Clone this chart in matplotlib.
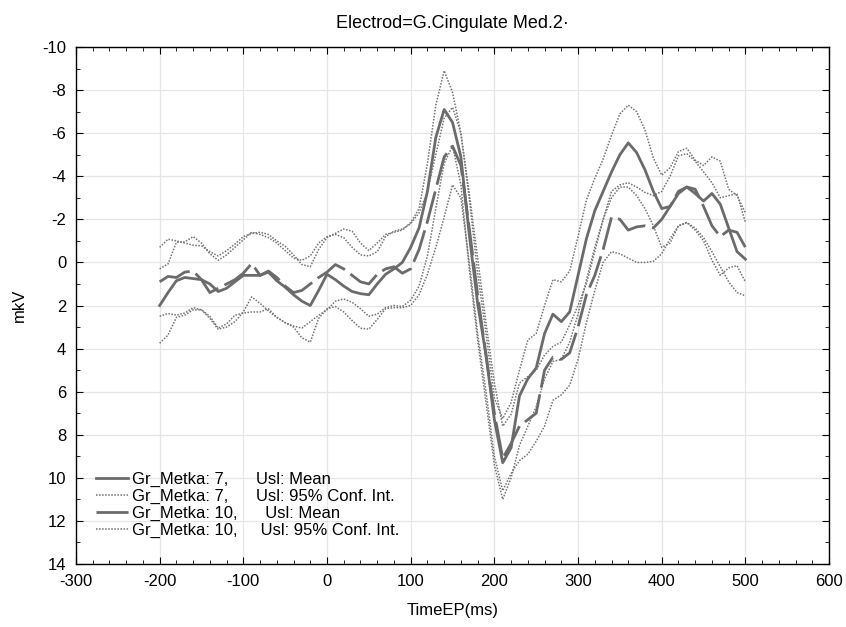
import matplotlib
matplotlib.use("Agg")
import matplotlib.pyplot as plt
from matplotlib.ticker import MultipleLocator

plt.rcParams['font.family'] = ['Liberation Sans', 'DejaVu Sans']
plt.rcParams['axes.unicode_minus'] = False

# sample times (ms)
time_ms = list(range(-200, 510, 10))

# Gr_Metka 7 mean and 95% CI (mkV)
gr7_mean = [2.0, 1.4, 0.85, 0.7, 0.75, 0.8, 1.0, 1.35, 1.2, 0.9,
            0.6, 0.6, 0.6, 0.45, 0.85, 1.15, 1.5, 1.8, 2.0, 1.3,
            0.55, 0.8, 1.1, 1.35, 1.45, 1.5, 1.0, 0.55, 0.3, 0.0,
            -0.7, -1.6, -3.3, -5.8, -7.1, -6.5, -4.9, -1.3, 1.9, 4.3,
            7.3, 9.3, 8.6, 6.2, 5.4, 4.9, 3.3, 2.4, 2.75, 2.3,
            0.6, -1.1, -2.4, -3.3, -4.2, -5.0, -5.55, -5.1, -4.3, -3.3,
            -2.5, -2.6, -3.2, -3.5, -3.2, -2.85, -3.2, -2.7, -1.6, -0.5,
            -0.15]
gr7_ci_up = [-0.7, -1.08, -1.0, -0.9, -0.8, -0.77, -0.5, -0.3, -0.55, -0.85,
             -1.2, -1.35, -1.4, -1.3, -1.0, -0.75, -0.35, 0.1, 0.2, -0.6,
             -1.15, -1.35, -1.55, -1.45, -0.9, -0.55, -0.9, -1.3, -1.4, -1.5,
             -1.85, -2.5, -4.6, -7.3, -8.9, -7.9, -6.0, -3.0, 0.5, 3.3,
             6.3, 7.25, 6.5, 5.0, 3.6, 3.3, 2.0, 0.8, 0.9, 0.4,
             -1.2, -2.9, -3.9, -4.8, -5.9, -6.9, -7.3, -7.0, -6.15, -4.85,
             -4.05, -4.4, -5.15, -5.3, -4.75, -4.5, -4.9, -4.7, -3.4, -3.1,
             -2.3]
gr7_ci_lo = [2.5, 2.37, 2.45, 2.35, 2.1, 2.2, 2.5, 3.05, 2.85, 2.45,
             2.35, 2.3, 2.3, 2.15, 2.55, 2.8, 2.95, 3.05, 2.75, 2.45,
             2.2, 1.8, 1.7, 1.85, 2.15, 2.5, 2.4, 2.1, 2.0, 2.05,
             1.75, 1.1, -0.3, -2.5, -4.6, -5.4, -3.6, 0.3, 3.6, 6.5,
             9.4, 11.0, 10.0, 8.5, 7.6, 6.7, 5.4, 4.6, 4.5, 3.7,
             2.4, 0.8, -0.7, -2.0, -3.0, -3.5, -3.5, -3.1, -2.5, -1.7,
             -0.7, -0.9, -1.7, -1.85, -1.5, -1.0, -0.1, 0.6, 0.25, 0.15,
             0.9]

# Gr_Metka 10 mean and 95% CI (mkV)
gr10_mean = [0.9, 0.65, 0.7, 0.45, 0.4, 0.8, 1.4, 1.2, 1.0, 0.8,
             0.5, 0.05, 0.6, 0.4, 0.7, 1.1, 1.4, 1.3, 1.0, 0.7,
             0.45, 0.1, 0.3, 0.6, 0.9, 1.0, 0.55, 0.3, 0.2, 0.5,
             0.3, -0.6, -1.9, -3.4, -4.9, -5.4, -4.5, -1.6, 1.5, 4.3,
             7.0, 9.1, 8.4, 7.6, 7.3, 7.0, 5.0, 4.4, 4.5, 4.2,
             3.0, 1.5, 0.6, -0.6, -2.1, -2.0, -1.5, -1.65, -1.7, -1.6,
             -2.0, -2.6, -3.3, -3.5, -3.4, -2.6, -1.7, -1.2, -1.5, -1.4,
             -0.7]
gr10_ci_up = [0.3, 0.07, -0.94, -0.95, -1.2, -0.9, -0.4, -0.1, -0.35, -0.7,
              -1.05, -1.4, -1.3, -1.15, -0.9, -0.55, -0.2, -0.1, -0.3, -0.9,
              -1.2, -1.3, -1.15, -0.7, -0.35, -0.3, -0.5, -1.2, -1.45, -1.55,
              -1.8, -2.3, -3.3, -5.0, -6.7, -7.2, -6.0, -3.2, -0.2, 2.8,
              5.6, 7.6, 7.05, 5.6, 5.3, 5.0, 4.3, 3.9, 3.7, 2.9,
              2.0, 1.0, -0.5, -2.0, -3.3, -3.6, -3.7, -3.5, -3.25, -3.1,
              -3.3, -4.0, -4.95, -5.05, -4.7, -4.2, -3.7, -3.0, -3.1, -3.2,
              -1.85]
gr10_ci_lo = [3.75, 3.37, 2.55, 2.45, 2.2, 2.2, 2.6, 3.1, 3.0, 2.75,
              2.3, 1.6, 1.9, 2.25, 2.55, 2.8, 3.0, 3.5, 3.7, 2.6,
              2.15, 2.05, 2.3, 2.7, 3.05, 3.1, 2.65, 2.15, 2.1, 2.1,
              2.0, 1.5, 0.55, -0.7, -2.1, -3.6, -3.0, 0.0, 3.3, 6.0,
              9.0, 10.6, 9.8, 9.2, 8.9, 8.3, 7.6, 6.4, 6.15, 5.7,
              4.5, 2.8, 1.3, 0.0, -0.5, -0.4, -0.2, 0.0, 0.0, -0.05,
              -0.4, -1.1, -1.7, -1.85, -1.6, -1.15, -0.5, 0.2, 0.9, 1.4,
              1.55]

mean_color = '#6b6b6b'
ci_color = '#737373'

fig = plt.figure(figsize=(8.46, 6.27), dpi=100)
ax = fig.add_axes([0.0898, 0.1005, 0.8902, 0.8245])

ax.plot(time_ms, gr7_mean, color=mean_color, lw=2.0,
        label='Gr_Metka: 7,      Usl: Mean')
ax.plot(time_ms, gr7_ci_up, color=ci_color, lw=1.1, ls=(0, (1, 1)),
        label='Gr_Metka: 7,      Usl: 95% Conf. Int.')
ax.plot(time_ms, gr7_ci_lo, color=ci_color, lw=1.1, ls=(0, (1, 1)))
ax.plot(time_ms, gr10_mean, color=mean_color, lw=2.0, ls=(0, (12, 2.5)),
        label='Gr_Metka: 10,      Usl: Mean')
ax.plot(time_ms, gr10_ci_up, color=ci_color, lw=1.1, ls=(0, (1, 1)),
        label='Gr_Metka: 10,     Usl: 95% Conf. Int.')
ax.plot(time_ms, gr10_ci_lo, color=ci_color, lw=1.1, ls=(0, (1, 1)))

ax.set_xlim(-300, 600)
ax.set_ylim(14, -10)
ax.xaxis.set_major_locator(MultipleLocator(100))
ax.xaxis.set_minor_locator(MultipleLocator(20))
ax.yaxis.set_major_locator(MultipleLocator(2))
ax.yaxis.set_minor_locator(MultipleLocator(1))
ax.grid(True, which='major', color='#e6e6e6', lw=0.9)
ax.set_axisbelow(True)

ax.tick_params(which='both', direction='in', top=True, right=True,
               labelsize=12, color='black')
ax.tick_params(which='major', length=5, pad=7)
ax.tick_params(which='minor', length=3)
for sp in ax.spines.values():
    sp.set_linewidth(1.0)
    sp.set_color('black')

ax.set_xlabel('TimeEP(ms)', fontsize=12, labelpad=10)
ax.set_ylabel('mkV', fontsize=12, labelpad=11)
ax.set_title('Electrod=G.Cingulate Med.2·', fontsize=13, pad=14)

ax.legend(loc='lower left', bbox_to_anchor=(0.027, 0.05), frameon=False,
          fontsize=12, handlelength=1.9, handletextpad=0.25,
          labelspacing=0.12, borderpad=0, borderaxespad=0)

fig.savefig('out.png', dpi=100)
